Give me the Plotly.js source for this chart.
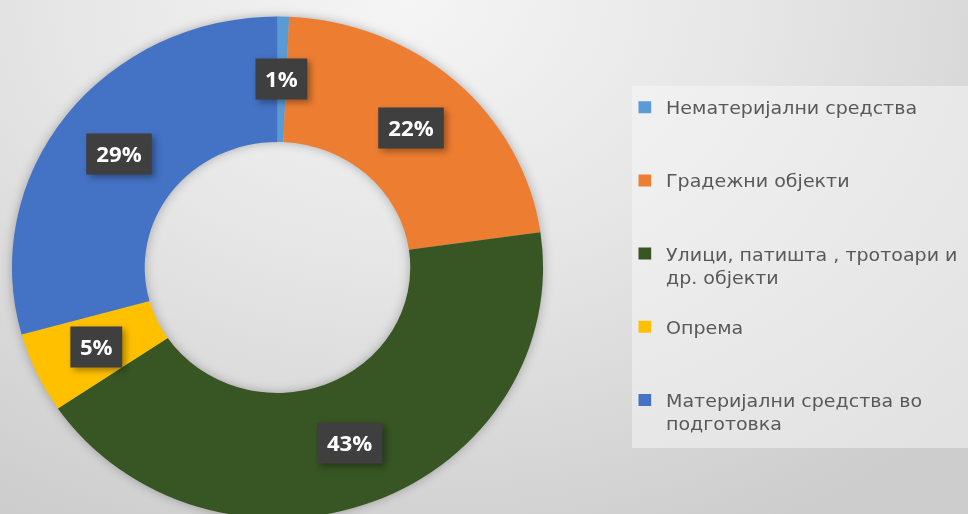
<!DOCTYPE html>
<html>
<head>
<meta charset="utf-8">
<script src="https://cdn.plot.ly/plotly-3.0.1.min.js"></script>
<style>
  html, body { margin: 0; padding: 0; width: 968px; height: 514px; overflow: hidden; }
  body {
    background: radial-gradient(ellipse 80% 115% at 42% 0%, #f5f5f5 0%, #e6e6e6 45%, #cdcdcd 100%);
  }
  #chart { width: 940px; height: 520px; transform: scaleX(1.058); transform-origin: 0 0; }
  #chart .pielayer { filter: drop-shadow(0 0 5px rgba(0,0,0,0.28)); }
  #chart .annotation-text-g rect.bg { filter: drop-shadow(3px 3px 3px rgba(0,0,0,0.35)); }
</style>
</head>
<body>
<div id="chart"></div>
<script>
// ---- data ----
const categories = [
  'Нематеријални средства',
  'Градежни објекти',
  'Улици, патишта , тротоари и др. објекти',
  'Опрема',
  'Материјални средства во подготовка'
];
const legendLabels = [
  'Нематеријални средства<br>\u00a0<br>\u00a0',
  'Градежни објекти<br>\u00a0<br>\u00a0',
  'Улици, патишта , тротоари и<br>др. објекти<br>\u00a0',
  'Опрема<br>\u00a0<br>\u00a0',
  'Материјални средства во<br>подготовка'
];
const values = [0.7, 22.05, 42.75, 5.2, 29.3];
const percentLabels = ['1%', '22%', '43%', '5%', '29%'];
const colors = ['#5B9BD5', '#ED7D31', '#375623', '#FFC000', '#4472C4'];

// ---- geometry (pre-transform pixels) ----
const W = 940, H = 520;
const SX = 1.058;
const cx = 277.5 / SX, cy = 267.5, R = 251;
const HOLE = 0.5;

const trace = {
  type: 'pie',
  labels: legendLabels,
  values: values,
  customdata: categories,
  sort: false,
  direction: 'clockwise',
  rotation: 0,
  hole: HOLE,
  textinfo: 'none',
  hoverinfo: 'none',
  marker: { colors: colors, line: { width: 0 } },
  domain: {
    x: [(cx - R) / W, (cx + R) / W],
    y: [1 - (cy + R) / H, 1 - (cy - R) / H]
  },
  automargin: false
};

// data labels placed at the middle of each ring segment
const total = values.reduce((a, b) => a + b, 0);
const rm = R * (1 + HOLE) / 2;
let cum = 0;
const annotations = values.map((v, i) => {
  const mid = (cum + v / 2) / total;
  cum += v;
  const th = 2 * Math.PI * mid;
  const px = cx + rm * Math.sin(th);
  const py = cy - rm * Math.cos(th);
  return {
    xref: 'paper', yref: 'paper',
    x: px / W, y: 1 - py / H,
    xanchor: 'center', yanchor: 'middle',
    text: percentLabels[i],
    showarrow: false,
    bgcolor: '#3f3f3f',
    borderpad: 4,
    width: percentLabels[i].length > 2 ? 53 : 40,
    height: 32,
    font: { family: 'Open Sans, sans-serif', size: 21, color: '#ffffff', weight: 700 }
  };
});

const layout = {
  width: W, height: H,
  margin: { l: 0, r: 0, t: 0, b: 0 },
  paper_bgcolor: 'rgba(0,0,0,0)',
  plot_bgcolor: 'rgba(0,0,0,0)',
  showlegend: true,
  legend: {
    x: 589.5 / W, xanchor: 'left',
    y: 1 - 89 / H, yanchor: 'top',
    bgcolor: 'rgba(0,0,0,0)',
    borderwidth: 0,
    valign: 'top',
    font: { family: 'DejaVu Sans, sans-serif', size: 18, color: '#595959' }
  },
  shapes: [{
    type: 'rect', xref: 'paper', yref: 'paper', layer: 'below',
    x0: 632 / SX / W, x1: 1, y0: 1 - 448 / H, y1: 1 - 86 / H,
    fillcolor: 'rgba(248,248,248,0.5)', line: { width: 0 }
  }],
  annotations: annotations
};

Plotly.newPlot('chart', [trace], layout, { displayModeBar: false, staticPlot: true });
</script>
</body>
</html>
